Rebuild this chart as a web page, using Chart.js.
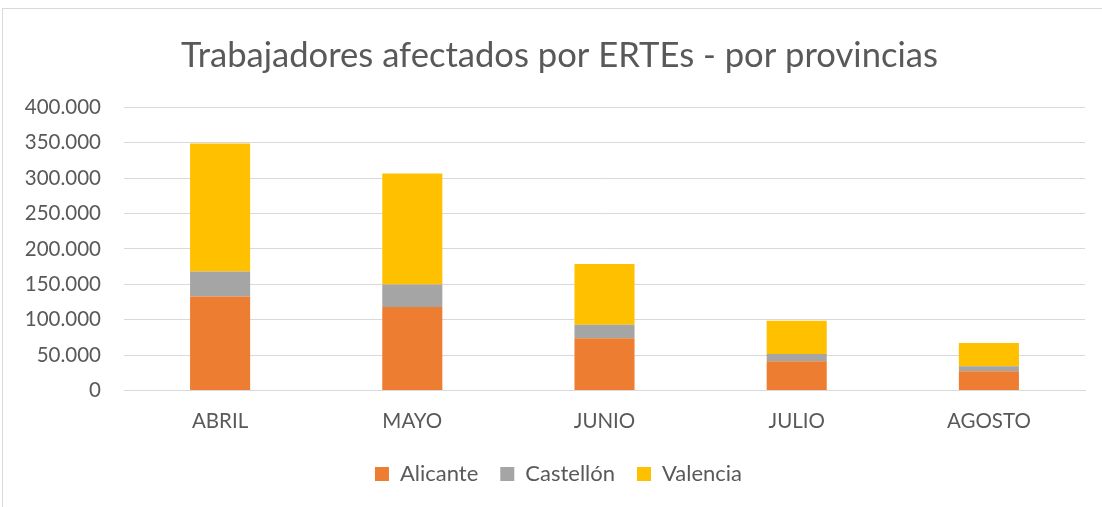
<!DOCTYPE html>
<html>
<head>
<meta charset="utf-8">
<script src="https://cdn.jsdelivr.net/npm/chart.js@4.4.0/dist/chart.umd.min.js"></script>
<style>
  html, body { margin: 0; padding: 0; background: #fff; overflow: hidden; }
  #frame { position: absolute; left: 2px; top: 8px; width: 1200px; height: 600px; border: 1px solid #d9d9d9; }
  #wrap { position: absolute; left: 0; top: 0; width: 1102px; height: 507px; }
</style>
</head>
<body>
<div id="frame"></div>
<div id="wrap"><canvas id="c" width="1102" height="507"></canvas></div>
<script>
const categories = ['ABRIL', 'MAYO', 'JUNIO', 'JULIO', 'AGOSTO'];
const alicante = [132800, 117800, 73700, 41300, 27200];
const castellon = [35200, 31900, 19300, 10300, 7100];
const valencia = [181300, 156900, 85900, 47000, 32800];
const yTicks = [0, 50000, 100000, 150000, 200000, 250000, 300000, 350000, 400000];

const FONT = "Lato, 'Open Sans', sans-serif";
const fmt = v => v === 0 ? '0' : v.toLocaleString('de-DE');

const layoutShift = {
  id: 'layoutShift',
  afterLayout(chart) {
    if (chart.legend) {
      chart.legend.top -= 12;
      chart.legend.bottom -= 12;
      chart.legend.left += 6;
      chart.legend.right += 6;
    }
    if (chart.titleBlock) {
      chart.titleBlock.left += 7;
      chart.titleBlock.right += 7;
    }
  }
};

new Chart(document.getElementById('c'), {
  type: 'bar',
  data: {
    labels: categories,
    datasets: [
      { label: 'Alicante', data: alicante, backgroundColor: '#ed7d31', borderWidth: 0 },
      { label: 'Castellón', data: castellon, backgroundColor: '#a5a5a5', borderWidth: 0 },
      { label: 'Valencia', data: valencia, backgroundColor: '#ffc000', borderWidth: 0 }
    ]
  },
  plugins: [layoutShift],
  options: {
    responsive: false,
    animation: false,
    layout: { padding: { left: 20, right: 17, top: 35, bottom: 0 } },
    datasets: { bar: { barPercentage: 1, categoryPercentage: 0.3125 } },
    plugins: {
      title: {
        display: true,
        text: 'Trabajadores afectados por ERTEs - por provincias',
        color: '#595959',
        font: { family: FONT, size: 34.6, weight: 'normal' },
        padding: { top: 0, bottom: 31 }
      },
      legend: {
        position: 'bottom',
        labels: {
          color: '#595959',
          font: { family: FONT, size: 22 },
          boxWidth: 14, boxHeight: 14, padding: 22
        }
      },
      tooltip: { enabled: false }
    },
    scales: {
      x: {
        stacked: true,
        grid: { display: false, drawTicks: false },
        border: { display: true, color: '#d9d9d9' },
        ticks: { color: '#595959', font: { family: FONT, size: 20.5 }, padding: 19 }
      },
      y: {
        stacked: true,
        min: 0, max: 400000,
        afterBuildTicks: s => { s.ticks = yTicks.map(v => ({ value: v })); },
        afterFit: s => { s.width = 104; },
        grid: { color: '#d9d9d9', drawTicks: false },
        border: { display: false },
        ticks: { color: '#595959', font: { family: FONT, size: 20.5 }, padding: 23, callback: v => fmt(v) }
      }
    }
  }
});
</script>
</body>
</html>
